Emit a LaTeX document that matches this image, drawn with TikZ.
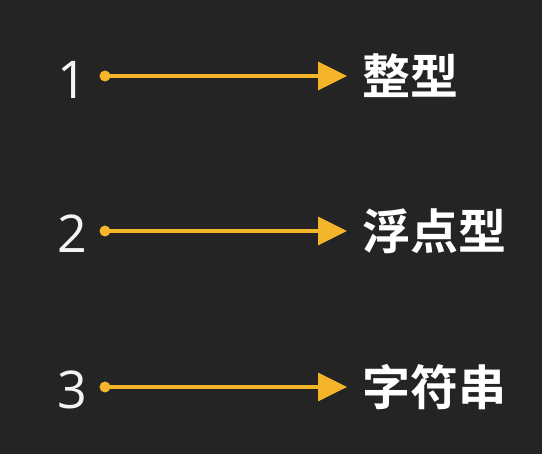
\documentclass[tikz,border=0pt]{standalone}
\usepackage{fontspec}
\usetikzlibrary{arrows.meta}
\newfontfamily\cjk{Noto Sans CJK SC}[BoldFont={* Bold}]
\newfontfamily\numfont{Open Sans}
\definecolor{bgc}{HTML}{242424}
\definecolor{arr}{HTML}{F5B52A}
\definecolor{numc}{HTML}{F4F4F4}
\tikzset{
  numlabel/.style={text=numc, font=\numfont\fontsize{52}{52}\selectfont, inner sep=0pt, anchor=center},
  typelabel/.style={text=white, font=\cjk\bfseries\fontsize{48}{48}\selectfont, inner sep=0pt, anchor=west},
  startdot/.style={circle, fill=arr, inner sep=0pt, minimum size=11pt},
  flow/.style={draw=arr, line width=3.5pt, -{Triangle[length=29pt,width=28pt]}, shorten >=15pt}
}
\begin{document}
\begin{tikzpicture}[x=1pt,y=-1pt]
\fill[bgc] (0,0) rectangle (542,454);
\useasboundingbox (0,0) rectangle (542,454);
% row 1
\node[numlabel] (n1) at (72,80) {1};
\node[startdot] (d1) at (105,76) {};
\node[typelabel] (t1) at (362,76) {\cjk\bfseries 整型};
\draw[flow] (d1.center) -- (t1.west);
% row 2
\node[numlabel] (n2) at (72,234) {2};
\node[startdot] (d2) at (105,231) {};
\node[typelabel] (t2) at (362,231) {\cjk\bfseries 浮点型};
\draw[flow] (d2.center) -- (t2.west);
% row 3
\node[numlabel] (n3) at (72,390) {3};
\node[startdot] (d3) at (105,387) {};
\node[typelabel] (t3) at (362,387) {\cjk\bfseries 字符串};
\draw[flow] (d3.center) -- (t3.west);
\end{tikzpicture}
\end{document}
